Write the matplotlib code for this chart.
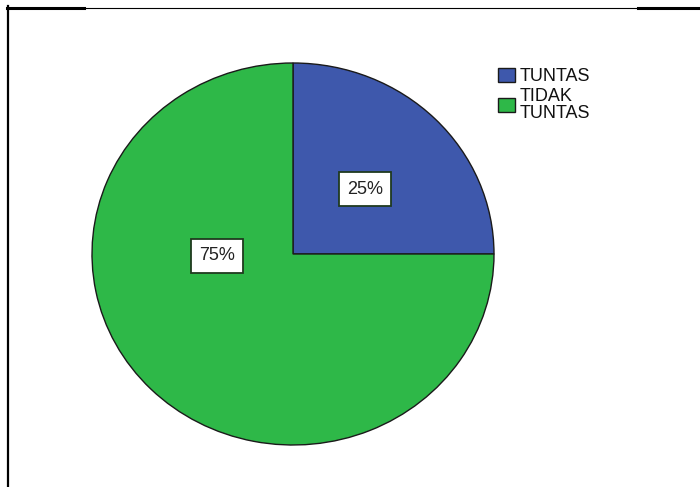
import matplotlib
matplotlib.use('Agg')
import matplotlib.pyplot as plt
from matplotlib.lines import Line2D

plt.rcParams['font.family'] = ['Liberation Sans', 'DejaVu Sans']

# data
categories = ['TUNTAS', 'TIDAK\nTUNTAS']
percent = [25, 75]
colors = ['#3E58AC', '#2EB848']

W, H = 700, 487
fig = plt.figure(figsize=(W / 100, H / 100), dpi=100)


def fx(px):
    return px / W


def fy(py):
    return 1 - py / H


# pie area: x 92..494, y 63..445 (pixels) - slightly oval like the SPSS output
ax = fig.add_axes([fx(92), fy(445), fx(494) - fx(92), fy(63) - fy(445)])
wedges, _ = ax.pie(percent, colors=colors, startangle=90, counterclock=False,
                   wedgeprops=dict(edgecolor='#1a1a1a', linewidth=1.0))
ax.set_aspect('auto')
ax.set_xlim(-1, 1)
ax.set_ylim(-1, 1)
ax.axis('off')

# label positions (SPSS puts them where it likes)
label_pos = [(0.36, 0.34), (-0.38, -0.01)]
for (x, y), p, c in zip(label_pos, percent, colors):
    ax.text(x, y, f"{p}%", ha='center', va='center', fontsize=13, color='#222222',
            bbox=dict(boxstyle='square,pad=0.45', facecolor='white',
                      edgecolor='#1f3a1f', linewidth=1.3))

leg = fig.legend(wedges, categories, loc='upper left',
                 bbox_to_anchor=(fx(498), fy(68)), bbox_transform=fig.transFigure,
                 frameon=False, fontsize=13, borderpad=0, borderaxespad=0,
                 handlelength=0.95, handleheight=0.85, handletextpad=0.25,
                 labelspacing=0.12)
for t in leg.get_texts():
    t.set_linespacing(1.05)
    t.set_color('#111111')

# frame lines around the output
fig.add_artist(Line2D([fx(7.5), fx(7.5)], [fy(6), fy(487)], color='black', lw=1.6,
                      transform=fig.transFigure))
fig.add_artist(Line2D([fx(84), fx(638)], [fy(7.5), fy(7.5)], color='black', lw=0.8,
                      transform=fig.transFigure))
fig.add_artist(Line2D([fx(7), fx(84)], [fy(7.5), fy(7.5)], color='black', lw=2.2,
                      transform=fig.transFigure))
fig.add_artist(Line2D([fx(638), fx(700)], [fy(7.5), fy(7.5)], color='black', lw=2.2,
                      transform=fig.transFigure))

fig.savefig('out.png', dpi=100)
